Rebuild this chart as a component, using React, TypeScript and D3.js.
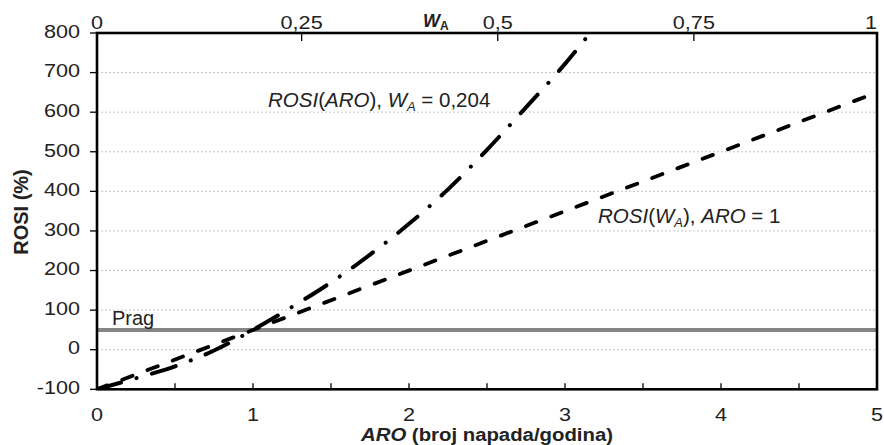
import React from "react";
import * as d3 from "d3";

const aroTicks = [0, 1, 2, 3, 4, 5];
const aroMinorTicks = [0.5, 1, 1.5, 2, 2.5, 3, 3.5, 4, 4.5];
const rosiTicks = [-100, 0, 100, 200, 300, 400, 500, 600, 700, 800];
const wTicks = [0, 0.25, 0.5, 0.75, 1];
const wTickLabels = ["0", "0,25", "0,5", "0,75", "1"];

// ROSI(ARO), W_A = 0,204
const aroValues = [0, 0.25, 0.5, 0.75, 1, 1.25, 1.5, 1.75, 2, 2.25, 2.5, 2.75, 3, 3.25];
const rosiAro = [-100, -72, -42, -2, 50, 108, 170, 240, 318, 405, 505, 612, 722, 845];

// ROSI(W_A), ARO = 1
const wValues = [0, 0.25, 0.5, 0.75, 1];
const rosiW = [-100, 87.5, 275, 462.5, 650];

const threshold = 50;

const W = 884;
const H = 445;
const M = { left: 97, right: 7, top: 33, bottom: 55.7 };

const FONT = "'Liberation Sans', Arial, sans-serif";
const TXT = "#222";

export default function App() {
  const x0 = M.left;
  const x1 = W - M.right;
  const y0 = H - M.bottom;
  const y1 = M.top;

  const x = d3.scaleLinear().domain([0, 5]).range([x0, x1]);
  const xw = d3.scaleLinear().domain([0, 1]).range([x0, x1]);
  // secondary axis tick marks in the reference sit slightly to the right
  const xwTick = d3.scaleLinear().domain([0, 1]).range([x0 + 8.5, x1 + 13]);
  const y = d3.scaleLinear().domain([-100, 800]).range([y0, y1]);

  const aroLine = d3
    .line<number>()
    .x((_, i) => x(aroValues[i]))
    .y((d) => y(d))
    .curve(d3.curveMonotoneX);
  const wLine = d3
    .line<number>()
    .x((_, i) => xw(wValues[i]))
    .y((d) => y(d));

  return (
    <div style={{ position: "absolute", left: 0, top: 0 }}>
      <svg width={W} height={H} style={{ display: "block", fontFamily: FONT }}>
        <rect x={0} y={0} width={W} height={H} fill="#fff" />
        <defs>
          <clipPath id="plot">
            <rect x={x0} y={y1} width={x1 - x0} height={y0 - y1} />
          </clipPath>
        </defs>
        {/* gridlines */}
        {rosiTicks
          .filter((t) => t > -100 && t < 800)
          .map((t) => (
            <line
              key={"g" + t}
              x1={x0}
              x2={x1}
              y1={y(t)}
              y2={y(t)}
              stroke="#c4c4c4"
              strokeWidth={1}
              strokeDasharray="2,2"
            />
          ))}
        {/* threshold */}
        <line
          x1={x0}
          x2={x1}
          y1={y(threshold)}
          y2={y(threshold)}
          stroke="#858585"
          strokeWidth={4}
        />
        <text x={x0 + 15} y={y(threshold) - 5} fontSize={20} fill={TXT}>
          Prag
        </text>
        {/* series */}
        <g clipPath="url(#plot)">
          <path
            d={wLine(rosiW) || ""}
            fill="none"
            stroke="#000"
            strokeWidth={3.8}
            strokeLinecap="round"
            strokeDasharray="11,16"
          />
          <path
            d={aroLine(rosiAro) || ""}
            fill="none"
            stroke="#000"
            strokeWidth={4}
            strokeLinecap="round"
            strokeDasharray="25,16,0.1,16"
          />
        </g>
        {/* frame */}
        <rect
          x={x0}
          y={y1}
          width={x1 - x0}
          height={y0 - y1}
          fill="none"
          stroke="#000"
          strokeWidth={2.6}
        />
        {/* left axis ticks */}
        {rosiTicks.map((t) => (
          <g key={"y" + t}>
            <line x1={x0 - 7} x2={x0} y1={y(t)} y2={y(t)} stroke="#000" strokeWidth={1.3} />
            <g transform={`translate(${x0 - 17},${y(t)}) scale(1.2,1)`}>
              <text textAnchor="end" dominantBaseline="middle" fontSize={18} fill={TXT}>
                {t}
              </text>
            </g>
          </g>
        ))}
        {/* bottom axis */}
        {aroMinorTicks.map((t) => (
          <line key={"bm" + t} x1={x(t)} x2={x(t)} y1={y0} y2={y0 - 6} stroke="#000" strokeWidth={1.3} />
        ))}
        {aroTicks.map((t) => (
          <g key={"bx" + t} transform={`translate(${x(t)},${y0 + 32}) scale(1.2,1)`}>
            <text textAnchor={t === 5 ? "end" : "middle"} x={t === 5 ? 5 : 0} fontSize={18} fill={TXT}>
              {t}
            </text>
          </g>
        ))}
        {/* top axis */}
        {wTicks
          .filter((t) => t > 0 && t < 1)
          .map((t) => (
            <line key={"tm" + t} x1={xwTick(t)} x2={xwTick(t)} y1={y1} y2={y1 + 8} stroke="#000" strokeWidth={1.3} />
          ))}
        {wTicks.map((t, i) => {
          const px = t === 0 ? x0 : t === 1 ? x1 : xwTick(t);
          return (
            <g key={"tx" + t} transform={`translate(${px},${y1 - 4}) scale(1.2,1)`}>
              <text textAnchor={t === 1 ? "end" : "middle"} fontSize={18} fill={TXT}>
                {wTickLabels[i]}
              </text>
            </g>
          );
        })}
        <text x={423} y={27} fontSize={18} fontWeight="bold" fill={TXT}>
          <tspan fontStyle="italic">W</tspan>
          <tspan fontSize={12} dy={3}>A</tspan>
        </text>
        {/* axis titles */}
        <g transform={`translate(487,440.5) scale(1.1,1)`}>
          <text textAnchor="middle" fontSize={18.5} fontWeight="bold" fill={TXT}>
            <tspan fontStyle="italic">ARO</tspan> (broj napada/godina)
          </text>
        </g>
        <text
          transform={`translate(27.5,212) rotate(-90)`}
          textAnchor="middle"
          fontSize={20}
          fontWeight="bold"
          fill={TXT}
        >
          ROSI (%)
        </text>
        {/* series labels */}
        <text x={268} y={106.5} fontSize={20.5} fill={TXT}>
          <tspan fontStyle="italic">ROSI</tspan>(<tspan fontStyle="italic">ARO</tspan>),{" "}
          <tspan fontStyle="italic">W</tspan>
          <tspan fontStyle="italic" fontSize={13} dy={4}>A</tspan>
          <tspan dy={-4}> = 0,204</tspan>
        </text>
        <text x={598} y={223} fontSize={20.5} fill={TXT}>
          <tspan fontStyle="italic">ROSI</tspan>(<tspan fontStyle="italic">W</tspan>
          <tspan fontStyle="italic" fontSize={13} dy={4}>A</tspan>
          <tspan dy={-4}>), </tspan>
          <tspan fontStyle="italic">ARO</tspan> = 1
        </text>
      </svg>
    </div>
  );
}
